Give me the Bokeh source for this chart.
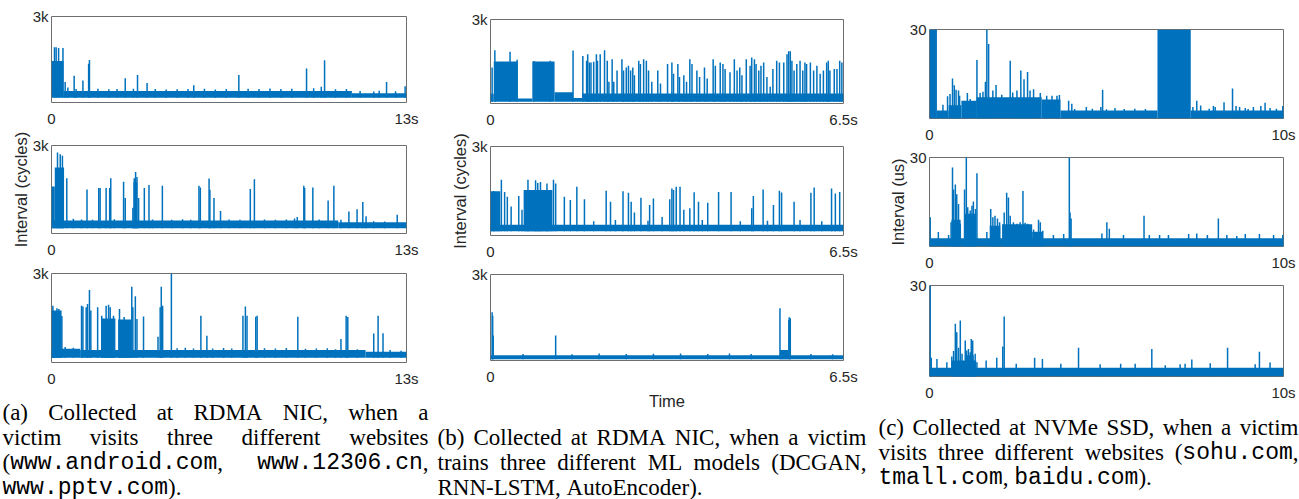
from bokeh.plotting import figure
from bokeh.layouts import row, column
from bokeh.models import Range1d, FixedTicker, ColumnDataSource
from bokeh.core.properties import value
from bokeh.embed import file_html
from bokeh.resources import INLINE

# ---------------- data ----------------
# (a) RDMA NIC, websites, 0..13 s, cycles
A1_BAND_T0 = [0.0, 0.44, 11.0]
A1_BAND_T1 = [0.44, 11.0, 13.0]
A1_BAND_HI = [1450, 400, 320]
A1_FLOOR = 170
A1_T = [0.11, 0.17, 0.26, 0.42, 0.50, 0.60, 0.83, 0.90, 1.15, 1.36, 1.39, 1.70, 2.10, 2.40, 2.70, 3.00, 3.15, 3.50, 3.80, 4.20, 4.60, 5.00, 5.21, 5.60, 6.00, 6.40, 6.86, 7.20, 7.60, 8.00, 8.40, 8.80, 9.34, 9.60, 9.88, 10.00, 10.40, 10.80, 11.30, 11.80, 12.00, 12.27, 12.60, 12.95]
A1_V = [1925, 1925, 1900, 1900, 715, 520, 935, 470, 770, 1350, 1480, 480, 460, 470, 850, 480, 960, 680, 470, 450, 460, 470, 600, 480, 455, 470, 960, 480, 470, 490, 470, 480, 1190, 500, 550, 1475, 460, 470, 400, 380, 410, 715, 390, 570]

A2_BAND_T0 = [0.0, 0.12, 0.0, 10.5, 3.00]
A2_BAND_T1 = [0.12, 0.46, 10.5, 13.0, 3.14]
A2_BAND_HI = [1600, 2250, 440, 380, 1750]
A2_FLOOR = 175
A2_T = [0.22, 0.32, 0.40, 0.56, 0.80, 1.10, 1.30, 1.50, 1.73, 1.78, 2.00, 2.13, 2.17, 2.30, 2.64, 2.70, 2.98, 3.03, 3.08, 3.13, 3.19, 3.40, 3.57, 3.70, 4.06, 4.40, 4.80, 5.10, 5.40, 5.45, 5.77, 5.80, 5.95, 6.19, 6.50, 6.90, 7.28, 7.43, 7.80, 8.20, 8.60, 8.90, 9.00, 9.24, 9.27, 9.57, 9.80, 10.13, 10.34, 10.60, 10.89, 11.19, 11.40, 11.52, 11.80, 12.20, 12.66]
A2_V = [2760, 2700, 2650, 1880, 500, 480, 1500, 470, 1555, 1555, 1555, 1555, 1880, 490, 1765, 1210, 880, 1880, 2095, 1930, 1210, 1555, 1655, 480, 1630, 470, 490, 470, 1630, 1570, 1875, 1490, 1210, 770, 480, 470, 1520, 1850, 480, 470, 480, 510, 560, 1630, 1555, 1565, 480, 1125, 1630, 470, 750, 830, 1070, 585, 420, 410, 640]

A3_BAND_T0 = [0.0, 0.0, 1.05, 11.5, 1.84, 2.44]
A3_BAND_T1 = [0.37, 1.05, 11.5, 13.0, 2.34, 2.93]
A3_BAND_HI = [1750, 460, 420, 360, 1480, 1450]
A3_FLOOR = 160
A3_T = [0.05, 0.20, 0.27, 0.38, 0.50, 0.80, 1.10, 1.15, 1.27, 1.32, 1.39, 1.44, 1.69, 1.84, 2.00, 2.09, 2.15, 2.27, 2.49, 2.66, 2.94, 2.98, 3.07, 3.13, 3.37, 3.90, 3.98, 4.02, 4.07, 4.39, 4.60, 4.90, 5.20, 5.47, 5.69, 5.90, 6.30, 6.60, 7.01, 7.10, 7.16, 7.48, 7.53, 7.80, 8.20, 8.60, 9.02, 9.30, 9.70, 10.10, 10.40, 10.60, 10.79, 10.85, 11.20, 11.80, 11.96, 12.14, 12.40, 12.80]
A3_V = [1910, 1830, 1800, 1570, 520, 500, 1910, 1890, 1860, 1970, 2440, 1750, 1860, 1580, 1910, 1950, 1860, 1580, 1800, 1530, 2550, 1860, 2230, 1470, 1550, 870, 1860, 2550, 1910, 3000, 480, 500, 470, 1580, 900, 470, 490, 470, 1580, 1890, 1580, 1540, 1580, 480, 470, 490, 1540, 460, 470, 480, 450, 790, 1580, 1530, 450, 980, 1580, 990, 420, 400]

# (b) RDMA NIC, ML models, 0..6.5 s, cycles
B1_BAND_T0 = [0.0, 0.06, 0.50, 0.77, 1.18, 1.52, 1.69]
B1_BAND_T1 = [0.06, 0.50, 0.77, 1.18, 1.52, 1.69, 6.5]
B1_BAND_HI = [350, 1500, 180, 1500, 400, 200, 360]
B1_FLOOR = 60
B1_T = [0.03, 0.08, 0.36, 0.49, 0.80, 1.10, 1.52, 1.70, 1.77, 1.79, 1.82, 1.85, 1.90, 1.95, 1.97, 2.02, 2.10, 2.15, 2.18, 2.24, 2.27, 2.33, 2.42, 2.45, 2.50, 2.54, 2.58, 2.62, 2.65, 2.73, 2.76, 2.82, 2.87, 2.91, 2.97, 3.08, 3.13, 3.26, 3.34, 3.37, 3.45, 3.48, 3.56, 3.61, 3.67, 3.71, 3.80, 3.85, 3.94, 3.99, 4.10, 4.14, 4.23, 4.28, 4.32, 4.41, 4.49, 4.54, 4.59, 4.63, 4.71, 4.78, 4.81, 4.86, 4.89, 4.94, 4.98, 5.03, 5.09, 5.15, 5.20, 5.27, 5.32, 5.40, 5.46, 5.49, 5.52, 5.55, 5.59, 5.64, 5.70, 5.75, 5.79, 5.82, 5.89, 5.95, 6.01, 6.07, 6.13, 6.19, 6.22, 6.25, 6.33, 6.38, 6.43, 6.47]
B1_V = [1290, 1905, 1850, 1560, 1520, 1530, 1890, 1700, 1525, 1755, 1465, 1465, 1490, 1755, 1525, 1755, 1905, 1525, 775, 1580, 775, 1180, 1580, 1180, 1290, 1350, 1180, 1290, 1005, 1525, 1410, 1580, 1525, 1180, 775, 1180, 715, 1410, 1465, 1060, 1410, 945, 1005, 775, 1580, 1410, 1180, 945, 1290, 890, 1580, 1350, 1465, 1410, 1235, 1120, 1580, 1180, 1290, 1005, 1580, 1350, 1640, 1580, 1410, 1180, 1350, 1465, 945, 600, 1235, 1525, 1465, 1465, 1755, 1870, 1870, 1525, 1180, 1410, 1525, 1180, 1465, 1410, 1465, 1180, 1350, 1060, 1180, 1465, 1525, 1180, 1235, 1235, 1525, 1465]

B2_BAND_T0 = [0.0, 0.61, 0.0]
B2_BAND_T1 = [0.18, 1.14, 6.5]
B2_BAND_HI = [1490, 1530, 360]
B2_FLOOR = 140
B2_T = [0.06, 0.20, 0.26, 0.31, 0.38, 0.52, 0.58, 0.69, 0.83, 0.87, 0.92, 1.04, 1.16, 1.20, 1.36, 1.47, 1.59, 1.73, 2.13, 2.21, 2.44, 2.54, 2.59, 2.65, 2.77, 2.93, 3.00, 3.16, 3.30, 3.34, 3.37, 3.42, 3.49, 3.56, 3.67, 3.75, 3.83, 4.00, 4.20, 4.43, 4.81, 4.84, 5.02, 5.21, 5.32, 5.36, 5.59, 5.90, 5.96, 6.28, 6.35, 6.43, 1.90, 2.30, 2.90, 3.90, 4.60, 5.10, 5.70, 6.10]
B2_V = [1500, 1880, 1470, 1305, 975, 1330, 865, 1880, 1860, 1770, 1800, 1750, 1880, 1750, 1305, 1195, 1640, 1220, 1505, 1140, 1495, 1440, 1140, 775, 1275, 1030, 1250, 620, 1220, 1585, 1530, 1640, 1640, 865, 920, 1460, 1140, 1105, 1470, 1470, 920, 1330, 1550, 1030, 1505, 1450, 1140, 1440, 1615, 1585, 1415, 1470, 480, 520, 500, 520, 480, 500, 520, 480]

B3_BAND_T0 = [0.0, 5.33, 5.48]
B3_BAND_T1 = [6.5, 5.48, 5.53]
B3_BAND_HI = [180, 370, 1415]
B3_FLOOR = 40
B3_T = [0.03, 0.04, 0.05, 0.60, 1.20, 1.50, 2.00, 2.50, 3.00, 3.50, 4.00, 4.40, 4.80, 5.33, 5.50, 5.52, 5.90, 6.30]
B3_V = [1680, 1565, 870, 230, 870, 220, 240, 230, 235, 240, 230, 240, 225, 1820, 1510, 1470, 230, 220]

# (c) NVMe SSD, websites, 0..10 s, us
C1_BAND_T0 = [0.0, 0.21, 0.54, 0.90, 1.33, 3.17, 3.70, 6.44, 7.38]
C1_BAND_T1 = [0.21, 0.54, 0.90, 1.33, 3.17, 3.70, 6.44, 7.38, 10.0]
C1_BAND_HI = [30, 2.7, 4.5, 6.0, 7.2, 6.4, 2.7, 30, 2.7]
C1_FLOOR = 0
C1_T = [0.38, 0.51, 0.58, 0.65, 0.70, 0.75, 0.82, 0.85, 1.07, 1.15, 1.34, 1.43, 1.51, 1.58, 1.62, 1.67, 1.79, 1.88, 2.04, 2.28, 2.35, 2.47, 2.58, 2.67, 2.77, 2.84, 2.94, 3.13, 3.31, 3.46, 3.60, 3.67, 3.93, 4.02, 4.10, 4.43, 4.60, 4.84, 4.89, 5.00, 5.24, 5.50, 5.80, 6.10, 7.44, 7.55, 7.66, 7.90, 8.02, 8.07, 8.32, 8.56, 8.66, 8.76, 8.92, 9.00, 9.15, 9.36, 9.48, 9.62, 9.80, 9.98]
C1_V = [4.6, 7.5, 8.3, 13.5, 11.2, 9.7, 9.4, 7.7, 8.6, 6.6, 19.7, 8.6, 9.0, 12.4, 30.0, 25.1, 9.4, 11.3, 8.0, 19.5, 8.8, 9.4, 16.2, 13.2, 15.7, 9.4, 9.9, 8.6, 7.7, 7.7, 7.7, 7.9, 6.0, 5.0, 3.2, 3.9, 3.3, 3.9, 9.7, 3.1, 3.5, 3.2, 3.3, 3.2, 3.9, 6.0, 4.4, 3.3, 4.2, 3.9, 5.5, 10.1, 4.2, 3.9, 3.5, 3.2, 3.9, 4.2, 5.3, 3.5, 3.3, 4.2]

C2_BAND_T0 = [0.0, 0.62, 0.98, 1.70, 2.05, 2.90]
C2_BAND_T1 = [10.0, 0.88, 1.32, 2.00, 2.90, 3.20]
C2_BAND_HI = [2.75, 9.0, 11.0, 7.0, 7.5, 5.0]
C2_FLOOR = 0
C2_T = [0.02, 0.25, 0.54, 0.61, 0.65, 0.68, 0.73, 0.77, 0.82, 0.87, 0.99, 1.04, 1.08, 1.15, 1.20, 1.24, 1.30, 1.34, 1.62, 1.73, 1.79, 1.85, 1.92, 1.98, 2.11, 2.18, 2.23, 2.28, 2.37, 2.47, 2.56, 2.64, 2.70, 2.77, 2.84, 2.94, 3.08, 3.13, 3.20, 3.50, 3.79, 3.95, 3.97, 4.00, 4.87, 5.01, 5.08, 5.48, 6.06, 6.21, 6.50, 6.75, 7.32, 7.55, 7.85, 8.16, 8.40, 8.68, 8.92, 9.32, 9.72, 9.98]
C2_V = [9.9, 4.9, 3.9, 8.2, 26.6, 19.2, 20.9, 17.6, 14.3, 7.7, 19.2, 30.0, 13.2, 12.1, 13.7, 15.2, 12.6, 24.7, 4.9, 12.6, 9.9, 10.4, 9.4, 8.2, 11.5, 18.1, 16.5, 10.4, 8.2, 7.7, 8.2, 18.7, 8.0, 7.7, 6.0, 5.7, 9.0, 8.2, 5.3, 3.9, 4.2, 30.0, 11.5, 9.4, 4.4, 8.2, 6.0, 3.9, 10.4, 3.9, 3.9, 3.9, 4.2, 4.4, 3.9, 9.4, 3.9, 3.5, 4.2, 4.2, 3.9, 3.9]

C3_BAND_T0 = [0.0, 0.63, 1.00]
C3_BAND_T1 = [10.0, 1.32, 1.25]
C3_BAND_HI = [2.9, 5.3, 7.0]
C3_FLOOR = 0
C3_T = [0.02, 0.05, 0.21, 0.49, 0.63, 0.68, 0.73, 0.77, 0.82, 0.87, 0.92, 1.01, 1.05, 1.10, 1.15, 1.18, 1.22, 1.29, 1.34, 1.60, 1.90, 2.07, 2.11, 2.45, 2.97, 3.19, 3.71, 4.21, 4.82, 5.40, 5.81, 6.28, 6.66, 7.08, 7.22, 7.41, 7.93, 8.42, 9.20, 9.32, 9.62]
C3_V = [30.0, 6.2, 5.8, 4.7, 6.6, 8.4, 17.4, 14.6, 9.5, 18.5, 7.5, 11.9, 8.6, 9.1, 8.0, 12.4, 11.9, 7.5, 4.7, 5.3, 6.2, 9.9, 19.8, 4.2, 6.2, 5.8, 4.2, 9.5, 4.0, 4.2, 4.2, 9.1, 3.7, 4.0, 4.2, 5.6, 4.4, 9.5, 4.0, 8.2, 4.6]

# axis extents and tick labels
XMAX_A, XLAB_A = 13, "13s"
XMAX_B, XLAB_B = 6.5, "6.5s"
XMAX_C, XLAB_C = 10, "10s"
YMAX_AB, YLAB_AB = 3000, "3k"
YMAX_C, YLAB_C = 30, "30"

# captions (`...` = typewriter text)
CAP_A = ["(a) Collected at RDMA NIC, when a",
         "victim visits three different websites",
         "(`www.android.com`, `www.12306.cn`,",
         "`www.pptv.com`)."]
CAP_B = ["(b) Collected at RDMA NIC, when a victim",
         "trains three different ML models (DCGAN,",
         "RNN-LSTM, AutoEncoder)."]
CAP_C = ["(c) Collected at NVMe SSD, when a victim",
         "visits three different websites (`sohu.com`,",
         "`tmall.com`, `baidu.com`)."]

# ---------------- style ----------------
BLUE = "#0072BD"
FRAME = "#6e6e6e"
TXT = "#262626"
SANS = "Liberation Sans"
SERIF = "Liberation Serif"
MONO = "Liberation Mono"
CAP_FS = 23

TIMES_W = {' ': 250, '(': 333, ')': 333, ',': 250, '.': 250, '-': 333,
           'a': 444, 'b': 500, 'c': 444, 'd': 500, 'e': 444, 'f': 333, 'g': 500, 'h': 500,
           'i': 278, 'j': 278, 'k': 500, 'l': 278, 'm': 778, 'n': 500, 'o': 500, 'p': 500,
           'q': 500, 'r': 333, 's': 389, 't': 278, 'u': 500, 'v': 500, 'w': 722, 'x': 500,
           'y': 500, 'z': 444, 'A': 722, 'B': 667, 'C': 667, 'D': 722, 'E': 611, 'F': 556,
           'G': 722, 'H': 722, 'I': 333, 'J': 389, 'K': 722, 'L': 611, 'M': 889, 'N': 722,
           'O': 722, 'P': 556, 'Q': 722, 'R': 667, 'S': 556, 'T': 611, 'U': 722, 'V': 722,
           'W': 944, 'X': 722, 'Y': 722, 'Z': 611}


def run_width(s, mono):
    if mono:
        return 0.6 * len(s) * CAP_FS
    return sum(TIMES_W.get(c, 500) for c in s) / 1000.0 * CAP_FS


def panel(width, height, left, right, top, bottom, xmax, xlab, ymax, ylab,
          t0, t1, hi, floor, st, sv, ylabel=None, ylabel_standoff=0, xlabel=None):
    p = figure(width=width, height=height, x_range=Range1d(0, xmax), y_range=Range1d(0, ymax),
               toolbar_location=None, output_backend="svg", title=None,
               min_border_left=left, min_border_right=right,
               min_border_top=top, min_border_bottom=bottom)
    p.xgrid.visible = False
    p.ygrid.visible = False
    p.outline_line_color = FRAME
    p.outline_line_width = 1
    n = min(len(t0), len(t1), len(hi))
    bsrc = ColumnDataSource(dict(left=t0[:n], right=t1[:n], bottom=[floor] * n, top=hi[:n]))
    p.quad(left="left", right="right", bottom="bottom", top="top", source=bsrc,
           fill_color=BLUE, line_color=None)
    m = min(len(st), len(sv))
    ssrc = ColumnDataSource(dict(x=st[:m], y0=[floor] * m, y1=sv[:m]))
    p.segment(x0="x", y0="y0", x1="x", y1="y1", source=ssrc, line_color=BLUE, line_width=1.5)

    xa = p.xaxis[0]
    ya = p.yaxis[0]
    xa.ticker = FixedTicker(ticks=[0, xmax])
    xa.major_label_overrides = {0: "0", xmax: xlab}
    ya.ticker = FixedTicker(ticks=[ymax])
    ya.major_label_overrides = {ymax: ylab}
    for ax in (xa, ya):
        ax.axis_line_color = None
        ax.major_tick_line_color = None
        ax.minor_tick_line_color = None
        ax.major_tick_in = 0
        ax.major_tick_out = 0
        ax.minor_tick_in = 0
        ax.minor_tick_out = 0
        ax.major_label_text_font = SANS
        ax.major_label_text_font_size = "15px"
        ax.major_label_text_color = TXT
        ax.axis_label_text_font = SANS
        ax.axis_label_text_font_size = "16.5px"
        ax.axis_label_text_font_style = "normal"
        ax.axis_label_text_color = TXT
    xa.major_label_standoff = 7
    ya.major_label_standoff = 3
    if ylabel:
        ya.axis_label = ylabel
        ya.axis_label_standoff = ylabel_standoff
    if xlabel:
        xa.axis_label = xlabel
        xa.axis_label_standoff = 4
    return p


def caption(width, height, lines, x0, x1, ys):
    p = figure(width=width, height=height, x_range=Range1d(0, width), y_range=Range1d(height, 0),
               toolbar_location=None, output_backend="svg", title=None, min_border=0,
               min_border_left=0, min_border_right=0, min_border_top=0, min_border_bottom=0,
               x_axis_location=None, y_axis_location=None)
    p.xgrid.visible = False
    p.ygrid.visible = False
    p.outline_line_color = None
    ser = dict(x=[], y=[], text=[])
    mon = dict(x=[], y=[], text=[])
    for i, (line, y) in enumerate(zip(lines, ys)):
        tokens = []
        for tok in line.split(" "):
            parts = tok.split("`")
            runs = [(s, k % 2 == 1) for k, s in enumerate(parts) if s]
            tokens.append(runs)
        widths = [sum(run_width(s, mo) for s, mo in r) for r in tokens]
        last = (i == len(lines) - 1)
        if last or len(tokens) < 2:
            gap = run_width(" ", False)
        else:
            gap = (x1 - x0 - sum(widths)) / (len(tokens) - 1)
        x = x0
        for runs, w in zip(tokens, widths):
            for s, mo in runs:
                d = mon if mo else ser
                d["x"].append(x)
                d["y"].append(y)
                d["text"].append(s)
                x += run_width(s, mo)
            x += gap
    for d, font in ((ser, SERIF), (mon, MONO)):
        p.text(x="x", y="y", text="text", source=ColumnDataSource(d),
               text_font=value(font), text_font_size=value(f"{CAP_FS}px"),
               text_baseline="middle", text_align="left", text_color="black")
    return p


# ---------------- column (a) ----------------
WA = 432
a1 = panel(WA, 129, 51, 26, 16, 22, XMAX_A, XLAB_A, YMAX_AB, YLAB_AB,
           A1_BAND_T0, A1_BAND_T1, A1_BAND_HI, A1_FLOOR, A1_T, A1_V)
a2 = panel(WA, 131, 51, 26, 16, 25, XMAX_A, XLAB_A, YMAX_AB, YLAB_AB,
           A2_BAND_T0, A2_BAND_T1, A2_BAND_HI, A2_FLOOR, A2_T, A2_V,
           ylabel="Interval (cycles)", ylabel_standoff=0)
a3 = panel(WA, 132, 51, 26, 13, 30, XMAX_A, XLAB_A, YMAX_AB, YLAB_AB,
           A3_BAND_T0, A3_BAND_T1, A3_BAND_HI, A3_FLOOR, A3_T, A3_V)
capA = caption(WA, 107, CAP_A, 2, 428, [20, 45, 70, 95])

# ---------------- column (b) ----------------
WB = 438
b1 = panel(WB, 130, 58, 27, 19, 23, XMAX_B, XLAB_B, YMAX_AB, YLAB_AB,
           B1_BAND_T0, B1_BAND_T1, B1_BAND_HI, B1_FLOOR, B1_T, B1_V)
b2 = panel(WB, 132, 58, 27, 16, 26, XMAX_B, XLAB_B, YMAX_AB, YLAB_AB,
           B2_BAND_T0, B2_BAND_T1, B2_BAND_HI, B2_FLOOR, B2_T, B2_V,
           ylabel="Interval (cycles)", ylabel_standoff=0)
b3 = panel(WB, 150, 58, 27, 12, 52, XMAX_B, XLAB_B, YMAX_AB, YLAB_AB,
           B3_BAND_T0, B3_BAND_T1, B3_BAND_HI, B3_FLOOR, B3_T, B3_V, xlabel="Time")
capB = caption(WB, 87, CAP_B, 5, 434, [25, 50, 75])

# ---------------- column (c) ----------------
WC = 429
c1 = panel(WC, 145, 59, 16, 29, 25, XMAX_C, XLAB_C, YMAX_C, YLAB_C,
           C1_BAND_T0, C1_BAND_T1, C1_BAND_HI, C1_FLOOR, C1_T, C1_V)
c2 = panel(WC, 128, 59, 16, 12, 25, XMAX_C, XLAB_C, YMAX_C, YLAB_C,
           C2_BAND_T0, C2_BAND_T1, C2_BAND_HI, C2_FLOOR, C2_T, C2_V,
           ylabel="Interval (us)", ylabel_standoff=0)
c3 = panel(WC, 130, 59, 16, 12, 27, XMAX_C, XLAB_C, YMAX_C, YLAB_C,
           C3_BAND_T0, C3_BAND_T1, C3_BAND_HI, C3_FLOOR, C3_T, C3_V)
capC = caption(WC, 96, CAP_C, 8, 428, [24, 49, 74])

layout = row(column(column(a1, a2, a3, spacing=0), capA, spacing=0),
             column(column(b1, b2, b3, spacing=0), capB, spacing=0),
             column(column(c1, c2, c3, spacing=0), capC, spacing=0), spacing=0)

open("out.html", "w").write(file_html(layout, INLINE))
